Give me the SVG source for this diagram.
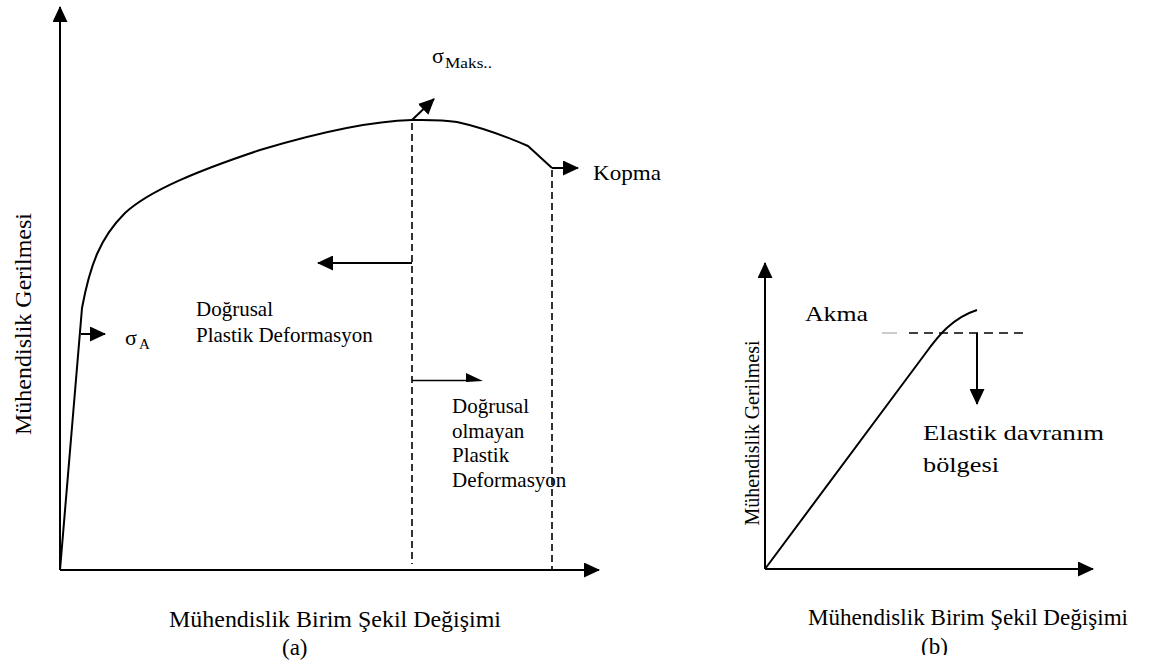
<svg xmlns="http://www.w3.org/2000/svg" width="1150" height="666" viewBox="0 0 1150 666">
<style>
  .t{font-family:"Liberation Serif","Times New Roman",serif;fill:#000}
  .ax{stroke:#000;stroke-width:2;fill:none}
  .cv{stroke:#000;stroke-width:2;fill:none;stroke-linejoin:round}
  .ds{stroke:#000;stroke-width:1.6;fill:none;stroke-dasharray:7 4}
  .ar{stroke:#000;stroke-width:2;fill:none}
</style>
<defs>
  <marker id="ah" markerUnits="userSpaceOnUse" markerWidth="16" markerHeight="15" refX="15" refY="7.5" orient="auto">
    <path d="M0,0 L16,7.5 L0,15 z" fill="#000"/>
  </marker>
  <clipPath id="clipB"><rect x="0" y="0" width="1150" height="655"/></clipPath>
</defs>
<rect width="1150" height="666" fill="#fff"/>

<g id="chart-a">
  <g id="axes-a">
    <line class="ax" x1="60" y1="570" x2="60" y2="7" marker-end="url(#ah)"/>
    <line class="ax" x1="60" y1="570" x2="599" y2="570" marker-end="url(#ah)"/>
  </g>
  <path id="curve-a" class="cv" d="M60,570 L82,308 C90,265 100,238 125,213 C150,190 200,170 260,150 C320,132 370,121 412,120 C430,119.7 445,120 457,122 C480,127 505,136 528,146 L552,168"/>
  <g id="dashed-a">
    <line class="ds" x1="412" y1="123" x2="412" y2="564"/>
    <line class="ds" x1="552" y1="170" x2="552" y2="569"/>
  </g>
  <g id="label-ya"><text class="t" font-size="24" text-anchor="middle" transform="translate(31,324) rotate(-90)">Mühendislik Gerilmesi</text></g>
  <g id="label-smaks"><text class="t" x="432" y="63" font-size="22">σ<tspan font-size="15" x="445" y="68" textLength="47" lengthAdjust="spacingAndGlyphs">Maks..</tspan></text></g>
  <g id="label-kopma"><text class="t" x="593" y="180" font-size="22" textLength="68" lengthAdjust="spacingAndGlyphs">Kopma</text></g>
  <g id="label-sa"><text class="t" x="125" y="345" font-size="22">σ<tspan font-size="15" x="139" y="349">A</tspan></text></g>
  <g id="label-lin"><text class="t" font-size="21"><tspan x="196" y="316">Doğrusal</tspan><tspan x="196" y="342">Plastik Deformasyon</tspan></text></g>
  <g id="label-nonlin"><text class="t" font-size="21"><tspan x="452" y="413">Doğrusal</tspan><tspan x="452" y="438">olmayan</tspan><tspan x="452" y="462">Plastik</tspan><tspan x="452" y="487">Deformasyon</tspan></text></g>
  <g id="label-xa"><text class="t" x="169" y="627" font-size="23" textLength="332" lengthAdjust="spacingAndGlyphs">Mühendislik Birim Şekil Değişimi</text>
    <text class="t" x="282" y="655" font-size="23">(a)</text></g>
</g>

<g id="chart-b">
  <g id="axes-b">
    <line class="ax" x1="765" y1="569" x2="765" y2="263" marker-end="url(#ah)"/>
    <line class="ax" x1="765" y1="569" x2="1093" y2="569" marker-end="url(#ah)"/>
  </g>
  <path id="curve-b" class="cv" d="M765,569 L925,354 C938,336 952,318 977,310"/>
  <g id="dashed-b">
    <line x1="882" y1="333" x2="897" y2="333" stroke="#bbb" stroke-width="1.5"/>
    <line x1="909" y1="333" x2="1023" y2="333" stroke="#000" stroke-width="1.6" stroke-dasharray="9 6"/>
  </g>
  <g id="label-akma"><text class="t" x="805" y="321" font-size="22" textLength="63" lengthAdjust="spacingAndGlyphs">Akma</text></g>
  <g id="label-elastik"><text class="t" font-size="22"><tspan x="923" y="440" textLength="181" lengthAdjust="spacingAndGlyphs">Elastik davranım</tspan><tspan x="923" y="472" textLength="76" lengthAdjust="spacingAndGlyphs">bölgesi</tspan></text></g>
  <g id="label-yb"><text class="t" font-size="20" text-anchor="middle" transform="translate(759,433) rotate(-90)">Mühendislik Gerilmesi</text></g>
  <g id="label-xb"><text class="t" x="808" y="625" font-size="23" textLength="320" lengthAdjust="spacingAndGlyphs">Mühendislik Birim Şekil Değişimi</text>
    <text class="t" x="921" y="654" font-size="23" clip-path="url(#clipB)">(b)</text></g>
</g>

<g id="connectors">
  <line class="ar" x1="412" y1="120" x2="434" y2="99" marker-end="url(#ah)"/>
  <line class="ar" x1="552" y1="168" x2="578" y2="168" marker-end="url(#ah)"/>
  <line class="ar" x1="81" y1="334" x2="105" y2="334" marker-end="url(#ah)"/>
  <line class="ar" x1="412" y1="263" x2="318" y2="263" marker-end="url(#ah)"/>
  <line x1="412" y1="380.5" x2="470" y2="380.5" stroke="#000" stroke-width="1.6"/>
  <polygon points="466,373 483,381 466,382" fill="#000"/>
  <line class="ar" x1="977" y1="333" x2="977" y2="404" marker-end="url(#ah)"/>
</g>
</svg>
